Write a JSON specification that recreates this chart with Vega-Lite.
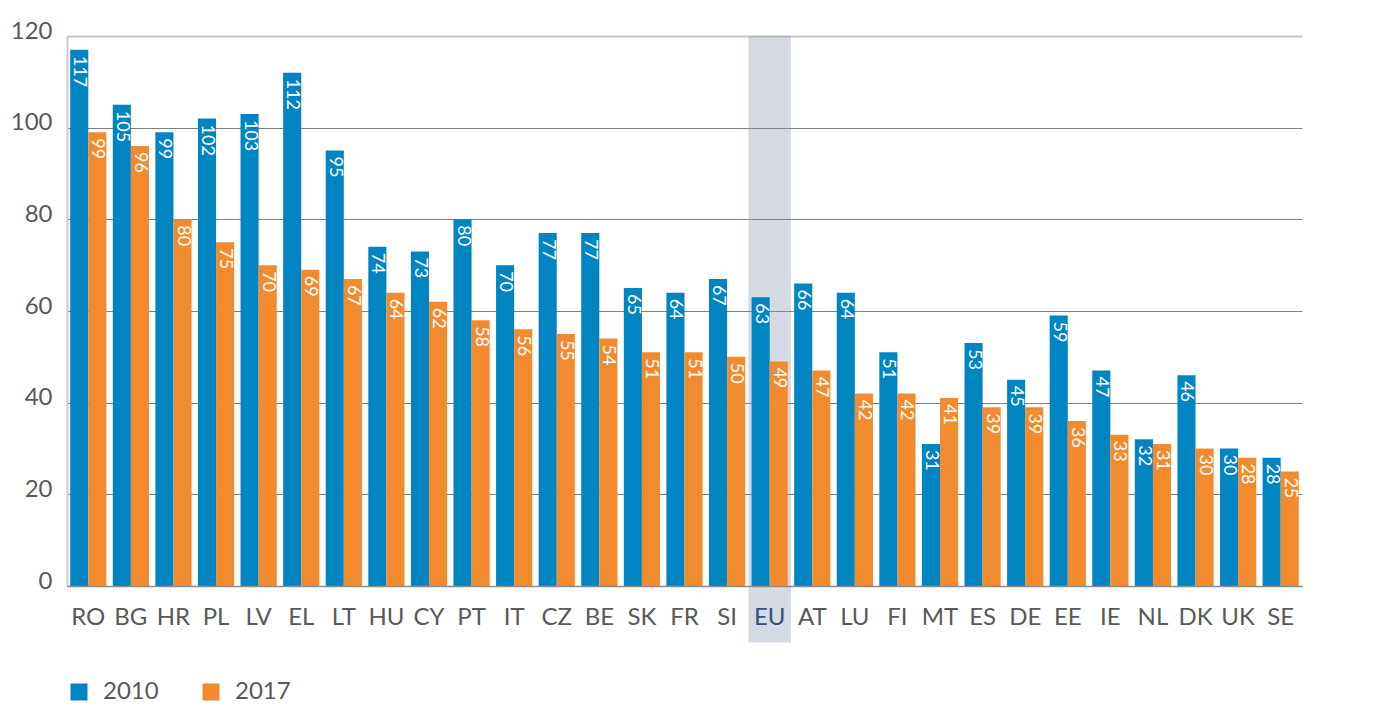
{
  "$schema": "https://vega.github.io/schema/vega-lite/v6.json",
  "autosize": {"type": "none"},
  "width": 1235,
  "height": 550,
  "padding": {"left": 67, "top": 36, "right": 76, "bottom": 131},
  "background": "white",
  "config": {
    "view": {"stroke": null},
    "font": "Lato",
    "axis": {"labelFont": "Lato", "labelColor": "#595959", "labelFontSize": 24, "ticks": false, "title": null}
  },
  "data": {
    "values": [
      {"country": "RO", "year": "2010", "value": 117}, {"country": "RO", "year": "2017", "value": 99},
      {"country": "BG", "year": "2010", "value": 105}, {"country": "BG", "year": "2017", "value": 96},
      {"country": "HR", "year": "2010", "value": 99}, {"country": "HR", "year": "2017", "value": 80},
      {"country": "PL", "year": "2010", "value": 102}, {"country": "PL", "year": "2017", "value": 75},
      {"country": "LV", "year": "2010", "value": 103}, {"country": "LV", "year": "2017", "value": 70},
      {"country": "EL", "year": "2010", "value": 112}, {"country": "EL", "year": "2017", "value": 69},
      {"country": "LT", "year": "2010", "value": 95}, {"country": "LT", "year": "2017", "value": 67},
      {"country": "HU", "year": "2010", "value": 74}, {"country": "HU", "year": "2017", "value": 64},
      {"country": "CY", "year": "2010", "value": 73}, {"country": "CY", "year": "2017", "value": 62},
      {"country": "PT", "year": "2010", "value": 80}, {"country": "PT", "year": "2017", "value": 58},
      {"country": "IT", "year": "2010", "value": 70}, {"country": "IT", "year": "2017", "value": 56},
      {"country": "CZ", "year": "2010", "value": 77}, {"country": "CZ", "year": "2017", "value": 55},
      {"country": "BE", "year": "2010", "value": 77}, {"country": "BE", "year": "2017", "value": 54},
      {"country": "SK", "year": "2010", "value": 65}, {"country": "SK", "year": "2017", "value": 51},
      {"country": "FR", "year": "2010", "value": 64}, {"country": "FR", "year": "2017", "value": 51},
      {"country": "SI", "year": "2010", "value": 67}, {"country": "SI", "year": "2017", "value": 50},
      {"country": "EU", "year": "2010", "value": 63}, {"country": "EU", "year": "2017", "value": 49},
      {"country": "AT", "year": "2010", "value": 66}, {"country": "AT", "year": "2017", "value": 47},
      {"country": "LU", "year": "2010", "value": 64}, {"country": "LU", "year": "2017", "value": 42},
      {"country": "FI", "year": "2010", "value": 51}, {"country": "FI", "year": "2017", "value": 42},
      {"country": "MT", "year": "2010", "value": 31}, {"country": "MT", "year": "2017", "value": 41},
      {"country": "ES", "year": "2010", "value": 53}, {"country": "ES", "year": "2017", "value": 39},
      {"country": "DE", "year": "2010", "value": 45}, {"country": "DE", "year": "2017", "value": 39},
      {"country": "EE", "year": "2010", "value": 59}, {"country": "EE", "year": "2017", "value": 36},
      {"country": "IE", "year": "2010", "value": 47}, {"country": "IE", "year": "2017", "value": 33},
      {"country": "NL", "year": "2010", "value": 32}, {"country": "NL", "year": "2017", "value": 31},
      {"country": "DK", "year": "2010", "value": 46}, {"country": "DK", "year": "2017", "value": 30},
      {"country": "UK", "year": "2010", "value": 30}, {"country": "UK", "year": "2017", "value": 28},
      {"country": "SE", "year": "2010", "value": 28}, {"country": "SE", "year": "2017", "value": 25}
    ]
  },
  "encoding": {
    "x": {
      "field": "country", "type": "nominal", "sort": null,
      "scale": {
        "domain": ["RO", "BG", "HR", "PL", "LV", "EL", "LT", "HU", "CY", "PT", "IT", "CZ", "BE", "SK", "FR", "SI", "EU", "AT", "LU", "FI", "MT", "ES", "DE", "EE", "IE", "NL", "DK", "UK", "SE"],
        "paddingInner": 0.15, "paddingOuter": 0.075
      },
      "axis": {
        "labelAngle": 0, "labelPadding": 19, "labelBaseline": "top",
        "domainColor": "#8c8c8c", "domainWidth": 1.5, "grid": false, "zindex": 1,
        "labelColor": {"condition": {"test": "datum.value === 'EU'", "value": "#2f527f"}, "value": "#595959"}
      }
    }
  },
  "layer": [
    {
      "transform": [{"filter": "datum.country === 'EU' && datum.year === '2010'"}],
      "mark": {"type": "bar", "width": {"band": 1.176}, "color": "#8795af", "opacity": 0.35},
      "encoding": {
        "y": {"datum": 120, "type": "quantitative", "scale": {"domain": [0, 120], "nice": false}},
        "y2": {"datum": -12.3}
      }
    },
    {
      "mark": {"type": "bar"},
      "encoding": {
        "xOffset": {"field": "year", "type": "nominal"},
        "y": {
          "field": "value", "type": "quantitative",
          "scale": {"domain": [0, 120], "nice": false},
          "axis": {
            "values": [0, 20, 40, 60, 80, 100, 120],
            "labelPadding": 15, "labelBaseline": "alphabetic", "labelOffset": 2,
            "domainColor": "#cccccc", "domainWidth": 2,
            "grid": true,
            "gridColor": {"condition": {"test": "datum.value === 120", "value": "#c4c4c4"}, "value": "#7f7f7f"},
            "gridWidth": {"condition": {"test": "datum.value === 120", "value": 2}, "value": 1}
          }
        },
        "color": {
          "field": "year", "type": "nominal",
          "scale": {"domain": ["2010", "2017"], "range": ["#0084c2", "#f18b2e"]},
          "legend": {
            "title": null, "orient": "none", "direction": "horizontal",
            "legendX": 0, "legendY": 644,
            "symbolType": "square", "symbolSize": 289, "symbolStrokeWidth": 0,
            "labelFont": "Lato", "labelFontSize": 24, "labelColor": "#595959",
            "labelOffset": 12, "columnPadding": 40
          }
        }
      }
    },
    {
      "mark": {"type": "text", "angle": 90, "align": "left", "baseline": "middle", "dx": 6, "color": "white", "font": "Lato", "fontSize": 18},
      "encoding": {
        "xOffset": {"field": "year", "type": "nominal"},
        "y": {"field": "value", "type": "quantitative"},
        "text": {"field": "value", "type": "quantitative"}
      }
    }
  ]
}
